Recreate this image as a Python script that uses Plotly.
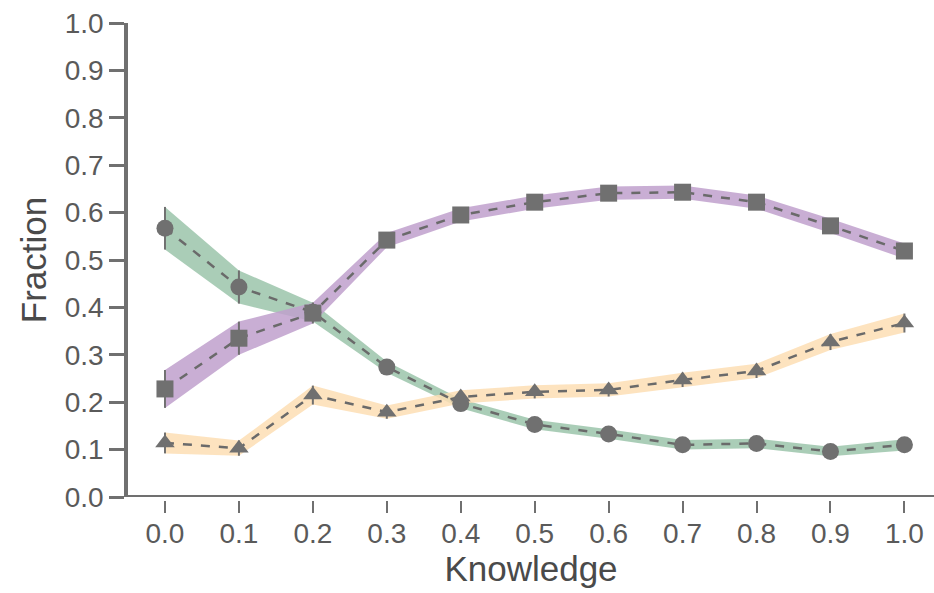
import plotly.graph_objects as go

knowledge = [0.0, 0.1, 0.2, 0.3, 0.4, 0.5, 0.6, 0.7, 0.8, 0.9, 1.0]

green_mean = [0.567, 0.443, 0.390, 0.274, 0.197, 0.153, 0.133, 0.110, 0.113, 0.096, 0.110]
green_err = [0.045, 0.035, 0.020, 0.012, 0.010, 0.010, 0.010, 0.010, 0.010, 0.010, 0.012]

purple_mean = [0.228, 0.335, 0.388, 0.542, 0.595, 0.622, 0.641, 0.643, 0.622, 0.572, 0.519]
purple_err = [0.040, 0.035, 0.022, 0.015, 0.014, 0.014, 0.014, 0.014, 0.014, 0.015, 0.016]

orange_mean = [0.114, 0.103, 0.215, 0.179, 0.211, 0.222, 0.226, 0.247, 0.266, 0.327, 0.367]
orange_err = [0.022, 0.016, 0.020, 0.014, 0.014, 0.014, 0.014, 0.015, 0.015, 0.017, 0.020]

x_ticks = [0.0, 0.1, 0.2, 0.3, 0.4, 0.5, 0.6, 0.7, 0.8, 0.9, 1.0]
y_ticks = [0.0, 0.1, 0.2, 0.3, 0.4, 0.5, 0.6, 0.7, 0.8, 0.9, 1.0]

series = [
    (green_mean, green_err, "rgba(155,196,170,0.85)", "circle", 17),
    (purple_mean, purple_err, "rgba(192,160,205,0.85)", "square", 17),
    (orange_mean, orange_err, "rgba(253,222,180,0.85)", "triangle-up", 17),
]

GRAY = "#707070"
FONT = "Liberation Sans, Arial, sans-serif"

fig = go.Figure()

for mean, err, col, _, _ in series:
    upper = [m + e for m, e in zip(mean, err)]
    lower = [m - e for m, e in zip(mean, err)]
    fig.add_trace(go.Scatter(x=knowledge, y=upper, mode="lines", line=dict(width=0),
                             hoverinfo="skip", showlegend=False))
    fig.add_trace(go.Scatter(x=knowledge, y=lower, mode="lines", line=dict(width=0),
                             fill="tonexty", fillcolor=col, hoverinfo="skip", showlegend=False))

for mean, err, col, sym, size in series:
    fig.add_trace(go.Scatter(
        x=knowledge, y=mean, mode="lines+markers",
        line=dict(color="#6a6a6a", width=2.5, dash="dash"),
        marker=dict(symbol=sym, size=size, color=GRAY, line=dict(width=0)),
        error_y=dict(type="data", array=err, color=GRAY, thickness=2, width=0),
        showlegend=False,
    ))

plot_h = 593 - 23 - 93
fig.update_layout(
    width=934, height=593,
    margin=dict(l=128, r=0, t=23, b=93, autoexpand=False),
    paper_bgcolor="white", plot_bgcolor="white",
    font=dict(family=FONT, color="#555555"),
    xaxis=dict(
        range=[-0.05, 1.04], tickvals=x_ticks, ticktext=[f"{v:.1f}" for v in x_ticks],
        showgrid=False, zeroline=False, showline=False, automargin=False,
        ticks="outside", ticklen=12, tickwidth=2, tickcolor=GRAY,
        tickfont=dict(size=28, color="#5a5a5a"), ticklabelstandoff=-4,
        anchor="free", position=0,
        title=dict(text="Knowledge", font=dict(size=35, color="#4a4a4a"), standoff=4),
    ),
    yaxis=dict(
        range=[0, 1], domain=[3 / plot_h, 1], tickvals=y_ticks,
        ticktext=[f"{v:.1f}" for v in y_ticks], automargin=False,
        showgrid=False, zeroline=False, showline=True, linecolor=GRAY, linewidth=3.5,
        ticks="outside", ticklen=15, tickwidth=3, tickcolor=GRAY,
        tickfont=dict(size=28, color="#5a5a5a"),
        title=dict(text="Fraction", font=dict(size=35, color="#4a4a4a"), standoff=8),
    ),
)

fig.add_shape(type="line", xref="paper", yref="y", x0=0, x1=1, y0=0, y1=0,
              line=dict(color=GRAY, width=4))

fig.write_html("out.html", config={"displayModeBar": False})

with open("out.html", "r", encoding="utf-8") as f:
    html = f.read()
html = html.replace("<head>", "<head><style>html,body{margin:0;padding:0;overflow:hidden;}</style>", 1)
with open("out.html", "w", encoding="utf-8") as f:
    f.write(html)
